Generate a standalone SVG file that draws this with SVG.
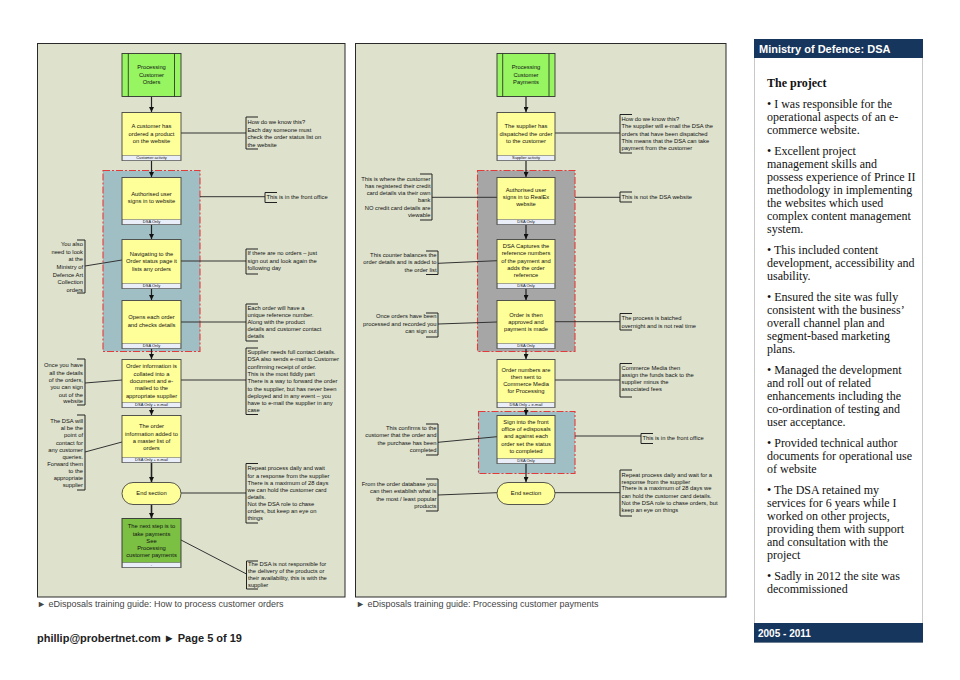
<svg xmlns="http://www.w3.org/2000/svg" width="960" height="680" viewBox="0 0 960 680">
<defs>
<marker id="ah" viewBox="0 0 6 6" refX="6" refY="3" markerWidth="5" markerHeight="5" markerUnits="userSpaceOnUse" orient="auto">
<path d="M0,0 L6,3 L0,6 Z" fill="#111"/>
</marker>
<style>
.panel{fill:#dee2cd;stroke:#2a2a2a;stroke-width:1}
.start{fill:#96f561;stroke:#333;stroke-width:0.9}
.box{fill:#ffff99;stroke:#444;stroke-width:0.9}
.gbox{fill:#7bc043;stroke:#333;stroke-width:0.9}
.foot{fill:#e9eef8;stroke:#555;stroke-width:0.5}
.regb{fill:#9fbfc4;stroke:#e23b3b;stroke-width:1.1;stroke-dasharray:7 2 2 2}
.regg{fill:#a6a6a6;stroke:#e23b3b;stroke-width:1.1;stroke-dasharray:7 2 2 2}
.arr{stroke:#222;stroke-width:1.2;fill:none;marker-end:url(#ah)}
.conn{stroke:#333;stroke-width:1;fill:none}
.br{stroke:#222;stroke-width:1;fill:none}
.t{font-family:"Liberation Sans",Arial,sans-serif;font-size:5.8px;fill:#111;text-anchor:middle}
.ft{font-family:"Liberation Sans",Arial,sans-serif;font-size:4px;fill:#111;text-anchor:middle}
.n{font-family:"Liberation Sans",Arial,sans-serif;font-size:5.8px;fill:#111}
.nr{font-family:"Liberation Sans",Arial,sans-serif;font-size:5.8px;fill:#111;text-anchor:end}
.cap{font-family:"Liberation Sans",Arial,sans-serif;font-size:9px;fill:#444}
.body{font-family:"Liberation Serif","Times New Roman",serif;font-size:12px;fill:#111}
</style>
</defs>
<rect width="960" height="680" fill="#ffffff"/>

<!-- Left panel -->
<g id="panel-left">
<rect class="panel" x="37.5" y="43.5" width="307.5" height="553.5"/>
<rect class="regb" x="103" y="170.5" width="97" height="181"/>
<text class="cap" x="37" y="607">► eDisposals training guide: How to process customer orders</text>
</g>

<!-- Right panel -->
<g id="panel-right">
<rect class="panel" x="355.5" y="43.5" width="370.5" height="553.5"/>
<rect class="regg" x="477.5" y="170.5" width="97.5" height="181"/>
<rect class="regb" x="478.5" y="411.5" width="96.5" height="62"/>
<text class="cap" x="356" y="607">► eDisposals training guide: Processing customer payments</text>
</g>

<!-- Connectors -->
<g id="connectors">
<line class="arr" x1="151.5" y1="96.5" x2="151.5" y2="112"/>
<line class="arr" x1="151.5" y1="160.5" x2="151.5" y2="177"/>
<line class="arr" x1="151.5" y1="224.5" x2="151.5" y2="239"/>
<line class="arr" x1="151.5" y1="288.5" x2="151.5" y2="300"/>
<line class="arr" x1="151.5" y1="348.5" x2="151.5" y2="359"/>
<line class="arr" x1="151.5" y1="407.5" x2="151.5" y2="415"/>
<line class="arr" x1="151.5" y1="462.5" x2="151.5" y2="482" style="stroke-width:1.6"/>
<line class="arr" x1="151.5" y1="504.5" x2="151.5" y2="518" style="stroke-width:1.6"/>

<line class="conn" x1="181" y1="133" x2="246" y2="133"/>
<line class="conn" x1="200" y1="196.7" x2="265" y2="196.7"/>
<line class="conn" x1="181" y1="261" x2="246" y2="261"/>
<line class="conn" x1="85" y1="266" x2="122" y2="260"/>
<line class="conn" x1="181" y1="322" x2="246" y2="322"/>
<line class="conn" x1="85" y1="383" x2="122" y2="380"/>
<line class="conn" x1="181" y1="380" x2="246" y2="380"/>
<line class="conn" x1="85" y1="452" x2="122" y2="442"/>
<line class="conn" x1="181" y1="493" x2="246" y2="493"/>
<line class="conn" x1="181" y1="540" x2="246.5" y2="574"/>

<line class="arr" x1="526" y1="96.5" x2="526" y2="112"/>
<line class="arr" x1="526" y1="160.5" x2="526" y2="177"/>
<line class="arr" x1="526" y1="224.5" x2="526" y2="239"/>
<line class="arr" x1="526" y1="288.5" x2="526" y2="300"/>
<line class="arr" x1="526" y1="348.5" x2="526" y2="359"/>
<line class="arr" x1="526" y1="407.5" x2="526" y2="415"/>
<line class="arr" x1="526" y1="463.5" x2="526" y2="482"/>

<line class="conn" x1="555" y1="133" x2="620" y2="133"/>
<line class="conn" x1="575" y1="197.3" x2="620" y2="197.3"/>
<line class="conn" x1="432" y1="197.3" x2="497" y2="197.3"/>
<line class="conn" x1="438" y1="263.3" x2="497" y2="260.7"/>
<line class="conn" x1="438" y1="324" x2="497" y2="322"/>
<line class="conn" x1="555" y1="321.7" x2="620" y2="321.7"/>
<line class="conn" x1="555" y1="380" x2="620" y2="380"/>
<line class="conn" x1="438" y1="442.3" x2="497" y2="436.7"/>
<line class="conn" x1="575" y1="436" x2="641" y2="436"/>
<line class="conn" x1="438" y1="495" x2="497" y2="492.7"/>
<line class="conn" x1="555" y1="492.7" x2="620" y2="492.7"/>
</g>

<!-- Left column nodes -->
<g id="L-start">
<rect class="start" x="122" y="53.5" width="59" height="43"/>
<line class="br" x1="128.3" y1="53.5" x2="128.3" y2="96.5" style="stroke-width:0.8"/>
<line class="br" x1="174.5" y1="53.5" x2="174.5" y2="96.5" style="stroke-width:0.8"/>
<text class="t"><tspan x="151.5" y="69.3">Processing</tspan><tspan x="151.5" y="77">Customer</tspan><tspan x="151.5" y="84.3">Orders</tspan></text>
</g>
<g id="L-box1">
<rect class="box" x="122" y="112.5" width="59" height="48"/>
<rect class="foot" x="122.5" y="155.5" width="58" height="5"/>
<text class="t"><tspan x="151.5" y="128.3">A customer has</tspan><tspan x="151.5" y="135.7">ordered a product</tspan><tspan x="151.5" y="142.8">on the website</tspan></text>
<text class="ft" x="151.5" y="159.4">Customer activity</text>
</g>
<g id="L-box2">
<rect class="box" x="122" y="177.5" width="59" height="47"/>
<rect class="foot" x="122.5" y="219.5" width="58" height="5"/>
<text class="t"><tspan x="151.5" y="196">Authorised user</tspan><tspan x="151.5" y="203.3">signs in to website</tspan></text>
<text class="ft" x="151.5" y="223.4">DSA Only</text>
</g>
<g id="L-box3">
<rect class="box" x="122" y="239.5" width="59" height="49"/>
<rect class="foot" x="122.5" y="283.5" width="58" height="5"/>
<text class="t"><tspan x="151.5" y="256">Navigating to the</tspan><tspan x="151.5" y="263.3">Order status page it</tspan><tspan x="151.5" y="270.5">lists any orders</tspan></text>
<text class="ft" x="151.5" y="287.4">DSA Only</text>
</g>
<g id="L-box4">
<rect class="box" x="122" y="300.5" width="59" height="48"/>
<rect class="foot" x="122.5" y="343.5" width="58" height="5"/>
<text class="t"><tspan x="151.5" y="319.3">Opens each order</tspan><tspan x="151.5" y="327.3">and checks details</tspan></text>
<text class="ft" x="151.5" y="347.4">DSA Only</text>
</g>
<g id="L-box5">
<rect class="box" x="122" y="359.5" width="59" height="48"/>
<rect class="foot" x="122.5" y="402.5" width="58" height="5"/>
<text class="t"><tspan x="151.5" y="368.3">Order information is</tspan><tspan x="151.5" y="375.7">collated into a</tspan><tspan x="151.5" y="383">document and e-</tspan><tspan x="151.5" y="390.2">mailed to the</tspan><tspan x="151.5" y="397.7">appropriate supplier</tspan></text>
<text class="ft" x="151.5" y="406.4">DSA Only + e-mail</text>
</g>
<g id="L-box6">
<rect class="box" x="122" y="415.5" width="59" height="47"/>
<rect class="foot" x="122.5" y="457.5" width="58" height="5"/>
<text class="t"><tspan x="151.5" y="428.3">The order</tspan><tspan x="151.5" y="435.5">information added to</tspan><tspan x="151.5" y="442.8">a master list of</tspan><tspan x="151.5" y="450">orders</tspan></text>
<text class="ft" x="151.5" y="461.4">DSA Only + e-mail</text>
</g>
<g id="L-end">
<rect class="box" x="122" y="482.5" width="59" height="22" rx="11" ry="11"/>
<text class="t" x="151.5" y="495">End section</text>
</g>
<g id="L-next">
<rect class="gbox" x="122" y="518.5" width="59" height="49"/>
<rect class="foot" x="122.5" y="562.5" width="58" height="5"/>
<text class="t"><tspan x="151.5" y="528.3">The next step is to</tspan><tspan x="151.5" y="535.7">take payments</tspan><tspan x="151.5" y="542.8">See</tspan><tspan x="151.5" y="549.8">Processing</tspan><tspan x="151.5" y="556.8">customer payments</tspan></text>
<text class="ft" x="151.5" y="566.4">-</text>
</g>

<!-- Left panel notes -->
<g id="L-note1">
<path class="br" d="M258,117 H246 V149 H258"/>
<text class="n"><tspan x="247.5" y="124.3">How do we know this?</tspan><tspan x="247.5" y="131.7">Each day someone must</tspan><tspan x="247.5" y="139.3">check the order status list on</tspan><tspan x="247.5" y="146.7">the website</tspan></text>
</g>
<g id="L-note2">
<path class="br" d="M277,192.5 H265 V202.5 H277"/>
<text class="n" x="266.5" y="199">This is in the front office</text>
</g>
<g id="L-note3">
<path class="br" d="M258,249 H246 V274 H258"/>
<text class="n"><tspan x="247.5" y="255.3">If there are no orders – just</tspan><tspan x="247.5" y="263">sign out and look again the</tspan><tspan x="247.5" y="270.3">following day</tspan></text>
</g>
<g id="L-note4">
<path class="br" d="M77,240 H85 V293 H77"/>
<text class="nr"><tspan x="83" y="246">You also</tspan><tspan x="83" y="253.7">need to look</tspan><tspan x="83" y="261.3">at the</tspan><tspan x="83" y="269">Ministry of</tspan><tspan x="83" y="276.7">Defence Art</tspan><tspan x="83" y="284">Collection</tspan><tspan x="83" y="291.7">orders</tspan></text>
</g>
<g id="L-note5">
<path class="br" d="M258,304 H246 V341 H258"/>
<text class="n"><tspan x="247.5" y="309.7">Each order will have a</tspan><tspan x="247.5" y="317">unique reference number.</tspan><tspan x="247.5" y="323.7">Along with the product</tspan><tspan x="247.5" y="331">details and customer contact</tspan><tspan x="247.5" y="338.3">details</tspan></text>
</g>
<g id="L-note6">
<path class="br" d="M77,359 H85 V405 H77"/>
<text class="nr"><tspan x="83" y="367.3">Once you have</tspan><tspan x="83" y="374.7">all the details</tspan><tspan x="83" y="382">of the orders,</tspan><tspan x="83" y="389.3">you can sign</tspan><tspan x="83" y="396.7">out of the</tspan><tspan x="83" y="403.3">website</tspan></text>
</g>
<g id="L-note7">
<path class="br" d="M258,348 H246 V414.5 H258"/>
<text class="n"><tspan x="247.5" y="353.7">Supplier needs full contact details.</tspan><tspan x="247.5" y="361.2">DSA also sends e-mail to Customer</tspan><tspan x="247.5" y="368.6">confirming receipt of order.</tspan><tspan x="247.5" y="376">This is the most fiddly part</tspan><tspan x="247.5" y="383.3">There is a way to forward the order</tspan><tspan x="247.5" y="390.6">to the supplier, but has never been</tspan><tspan x="247.5" y="397.7">deployed and in any event – you</tspan><tspan x="247.5" y="404.7">have to e-mail the supplier in any</tspan><tspan x="247.5" y="411.7">case</tspan></text>
</g>
<g id="L-note8">
<path class="br" d="M77,415 H85 V490 H77"/>
<text class="nr"><tspan x="83" y="422.7">The DSA will</tspan><tspan x="83" y="430">al be the</tspan><tspan x="83" y="437.3">point of</tspan><tspan x="83" y="444.7">contact for</tspan><tspan x="83" y="452">any customer</tspan><tspan x="83" y="458.7">queries.</tspan><tspan x="83" y="466">Forward them</tspan><tspan x="83" y="473">to the</tspan><tspan x="83" y="480">appropriate</tspan><tspan x="83" y="487">supplier</tspan></text>
</g>
<g id="L-note9">
<path class="br" d="M258,463.5 H246 V523 H258"/>
<text class="n"><tspan x="247.5" y="470.3">Repeat process daily and wait</tspan><tspan x="247.5" y="477.7">for a response from the supplier</tspan><tspan x="247.5" y="485">There is a maximum of 28 days</tspan><tspan x="247.5" y="491.7">we can hold the customer card</tspan><tspan x="247.5" y="498.7">details.</tspan><tspan x="247.5" y="505.7">Not the DSA role to chase</tspan><tspan x="247.5" y="513">orders, but keep an eye on</tspan><tspan x="247.5" y="520.3">things</tspan></text>
</g>
<g id="L-note10">
<path class="br" d="M258,561 H246.5 V589 H258"/>
<text class="n"><tspan x="248" y="566">The DSA is not responsible for</tspan><tspan x="248" y="573.3">the delivery of the products or</tspan><tspan x="248" y="580.3">their availability, this is with the</tspan><tspan x="248" y="587.3">supplier</tspan></text>
</g>

<!-- Right column nodes -->
<g id="R-start">
<rect class="start" x="497" y="53.5" width="58" height="43"/>
<line class="br" x1="502.7" y1="53.5" x2="502.7" y2="96.5" style="stroke-width:0.8"/>
<line class="br" x1="549" y1="53.5" x2="549" y2="96.5" style="stroke-width:0.8"/>
<text class="t"><tspan x="526" y="69.3">Processing</tspan><tspan x="526" y="77">Customer</tspan><tspan x="526" y="84.3">Payments</tspan></text>
</g>
<g id="R-box1">
<rect class="box" x="497" y="112.5" width="58" height="48"/>
<rect class="foot" x="497.5" y="155.5" width="57" height="5"/>
<text class="t"><tspan x="526" y="128.3">The supplier has</tspan><tspan x="526" y="135.7">dispatched the order</tspan><tspan x="526" y="142.8">to the customer</tspan></text>
<text class="ft" x="526" y="159.4">Supplier activity</text>
</g>
<g id="R-box2">
<rect class="box" x="497" y="177.5" width="58" height="47"/>
<rect class="foot" x="497.5" y="219.5" width="57" height="5"/>
<text class="t"><tspan x="526" y="192.3">Authorised user</tspan><tspan x="526" y="199.3">signs in to RealEx</tspan><tspan x="526" y="206">website</tspan></text>
<text class="ft" x="526" y="223.4">DSA Only</text>
</g>
<g id="R-box3">
<rect class="box" x="497" y="239.5" width="58" height="49"/>
<rect class="foot" x="497.5" y="283.5" width="57" height="5"/>
<text class="t"><tspan x="526" y="248">DSA Captures the</tspan><tspan x="526" y="255.3">reference numbers</tspan><tspan x="526" y="262.7">of the payment and</tspan><tspan x="526" y="270">adds the order</tspan><tspan x="526" y="277.3">reference</tspan></text>
<text class="ft" x="526" y="287.4">DSA Only</text>
</g>
<g id="R-box4">
<rect class="box" x="497" y="300.5" width="58" height="48"/>
<rect class="foot" x="497.5" y="343.5" width="57" height="5"/>
<text class="t"><tspan x="526" y="317">Order is then</tspan><tspan x="526" y="324">approved and</tspan><tspan x="526" y="331">payment is made</tspan></text>
<text class="ft" x="526" y="347.4">DSA Only</text>
</g>
<g id="R-box5">
<rect class="box" x="497" y="359.5" width="58" height="48"/>
<rect class="foot" x="497.5" y="402.5" width="57" height="5"/>
<text class="t"><tspan x="526" y="371.7">Order numbers are</tspan><tspan x="526" y="378.7">then sent to</tspan><tspan x="526" y="386">Commerce Media</tspan><tspan x="526" y="393">for Processing</tspan></text>
<text class="ft" x="526" y="406.4">DSA Only + e-mail</text>
</g>
<g id="R-box6">
<rect class="box" x="497" y="415.5" width="58" height="48"/>
<rect class="foot" x="497.5" y="458.5" width="57" height="5"/>
<text class="t"><tspan x="526" y="423.7">Sign into the front</tspan><tspan x="526" y="431">office of edisposals</tspan><tspan x="526" y="438.3">and against each</tspan><tspan x="526" y="445.7">order set the status</tspan><tspan x="526" y="452.7">to completed</tspan></text>
<text class="ft" x="526" y="462.4">DSA Only</text>
</g>
<g id="R-end">
<rect class="box" x="497" y="482.5" width="58" height="22" rx="11" ry="11"/>
<text class="t" x="526" y="495">End section</text>
</g>

<!-- Right panel notes -->
<g id="R-note1">
<path class="br" d="M632,114.5 H620 V153 H632"/>
<text class="n"><tspan x="621.5" y="121">How do we know this?</tspan><tspan x="621.5" y="128.3">The supplier will e-mail the DSA the</tspan><tspan x="621.5" y="135.7">orders that have been dispatched</tspan><tspan x="621.5" y="142.7">This means that the DSA can take</tspan><tspan x="621.5" y="150">payment from the customer</tspan></text>
</g>
<g id="R-note2">
<path class="br" d="M632,192 H620 V202 H632"/>
<text class="n" x="621.5" y="199">This is not the DSA website</text>
</g>
<g id="R-note3">
<path class="br" d="M420,174 H432 V220 H420"/>
<text class="nr"><tspan x="430.5" y="181">This is where the customer</tspan><tspan x="430.5" y="187.7">has registered their credit</tspan><tspan x="430.5" y="195">card details via their own</tspan><tspan x="430.5" y="202.3">bank</tspan><tspan x="430.5" y="209.7">NO credit card details are</tspan><tspan x="430.5" y="216.7">viewable</tspan></text>
</g>
<g id="R-note4">
<path class="br" d="M426,251 H438 V274.5 H426"/>
<text class="nr"><tspan x="436.5" y="257.3">This counter balances the</tspan><tspan x="436.5" y="264.3">order details and is added to</tspan><tspan x="436.5" y="271.7">the order list</tspan></text>
</g>
<g id="R-note5">
<path class="br" d="M426,313 H438 V337 H426"/>
<text class="nr"><tspan x="436.5" y="318.3">Once orders have been</tspan><tspan x="436.5" y="326">processed and recorded you</tspan><tspan x="436.5" y="333.3">can sign out</tspan></text>
</g>
<g id="R-note6">
<path class="br" d="M632,313.5 H620 V330 H632"/>
<text class="n"><tspan x="621.5" y="320.3">The process is batched</tspan><tspan x="621.5" y="327.7">overnight and is not real time</tspan></text>
</g>
<g id="R-note7">
<path class="br" d="M632,363.5 H620 V397 H632"/>
<text class="n"><tspan x="621.5" y="370.3">Commerce Media then</tspan><tspan x="621.5" y="377">assign the funds back to the</tspan><tspan x="621.5" y="384">supplier minus the</tspan><tspan x="621.5" y="391">associated fees</tspan></text>
</g>
<g id="R-note8">
<path class="br" d="M426,424 H438 V455 H426"/>
<text class="nr"><tspan x="436.5" y="430">This confirms to the</tspan><tspan x="436.5" y="437.3">customer that the order and</tspan><tspan x="436.5" y="444.7">the purchase has been</tspan><tspan x="436.5" y="452">completed</tspan></text>
</g>
<g id="R-note9">
<path class="br" d="M653,433.5 H641 V443.5 H653"/>
<text class="n" x="642.5" y="440.3">This is in the front office</text>
</g>
<g id="R-note10">
<path class="br" d="M426,479 H438 V511 H426"/>
<text class="nr"><tspan x="436.5" y="486.3">From the order database you</tspan><tspan x="436.5" y="493.3">can then establish what is</tspan><tspan x="436.5" y="500.7">the most / least popular</tspan><tspan x="436.5" y="508">products</tspan></text>
</g>
<g id="R-note11">
<path class="br" d="M632,470 H620 V516 H632"/>
<text class="n"><tspan x="621.5" y="477">Repeat process daily and wait for a</tspan><tspan x="621.5" y="483.7">response from the supplier</tspan><tspan x="621.5" y="490.3">There is a maximum of 28 days we</tspan><tspan x="621.5" y="497.7">can hold the customer card details.</tspan><tspan x="621.5" y="505">Not the DSA role to chase orders, but</tspan><tspan x="621.5" y="512.3">keep an eye on things</tspan></text>
</g>

<!-- Footer -->
<g id="footer">
<text x="37" y="642" style="font-family:'Liberation Sans',Arial,sans-serif;font-size:11px;font-weight:bold;fill:#222">phillip@probertnet.com ► Page 5 of 19</text>
</g>

<!-- Sidebar -->
<g id="sidebar">
<rect x="754.5" y="39.5" width="168" height="603" fill="#ffffff" stroke="#c8c8c8" stroke-width="1"/>
<rect x="754" y="39" width="169" height="19" fill="#17365d"/>
<text x="759" y="52.5" style="font-family:'Liberation Sans',Arial,sans-serif;font-size:11px;font-weight:bold;fill:#ffffff">Ministry of Defence: DSA</text>
<rect x="754" y="623" width="169" height="19.5" fill="#17365d"/>
<text x="758" y="636.5" style="font-family:'Liberation Sans',Arial,sans-serif;font-size:10px;font-weight:bold;fill:#ffffff">2005 - 2011</text>
<text class="body" x="767" y="87" style="font-weight:bold">The project</text>
<text class="body">
<tspan x="767" y="108">• I was responsible for the</tspan>
<tspan x="767" y="121">operational aspects of an e-</tspan>
<tspan x="767" y="134">commerce website.</tspan>
<tspan x="767" y="155">• Excellent project</tspan>
<tspan x="767" y="168">management skills and</tspan>
<tspan x="767" y="181">possess experience of Prince II</tspan>
<tspan x="767" y="194">methodology in implementing</tspan>
<tspan x="767" y="207">the websites which used</tspan>
<tspan x="767" y="220">complex content management</tspan>
<tspan x="767" y="233">system.</tspan>
<tspan x="767" y="254">• This included content</tspan>
<tspan x="767" y="267">development, accessibility and</tspan>
<tspan x="767" y="280">usability.</tspan>
<tspan x="767" y="301">• Ensured the site was fully</tspan>
<tspan x="767" y="314">consistent with the business’</tspan>
<tspan x="767" y="327">overall channel plan and</tspan>
<tspan x="767" y="340">segment-based marketing</tspan>
<tspan x="767" y="353">plans.</tspan>
<tspan x="767" y="374">• Managed the development</tspan>
<tspan x="767" y="387">and roll out of related</tspan>
<tspan x="767" y="400">enhancements including the</tspan>
<tspan x="767" y="413">co-ordination of testing and</tspan>
<tspan x="767" y="426">user acceptance.</tspan>
<tspan x="767" y="447">• Provided technical author</tspan>
<tspan x="767" y="460">documents for operational use</tspan>
<tspan x="767" y="473">of website</tspan>
<tspan x="767" y="494">• The DSA retained my</tspan>
<tspan x="767" y="507">services for 6 years while I</tspan>
<tspan x="767" y="520">worked on other projects,</tspan>
<tspan x="767" y="533">providing them with support</tspan>
<tspan x="767" y="546">and consultation with the</tspan>
<tspan x="767" y="559">project</tspan>
<tspan x="767" y="580">• Sadly in 2012 the site was</tspan>
<tspan x="767" y="593">decommissioned</tspan>
</text>
</g>
</svg>
